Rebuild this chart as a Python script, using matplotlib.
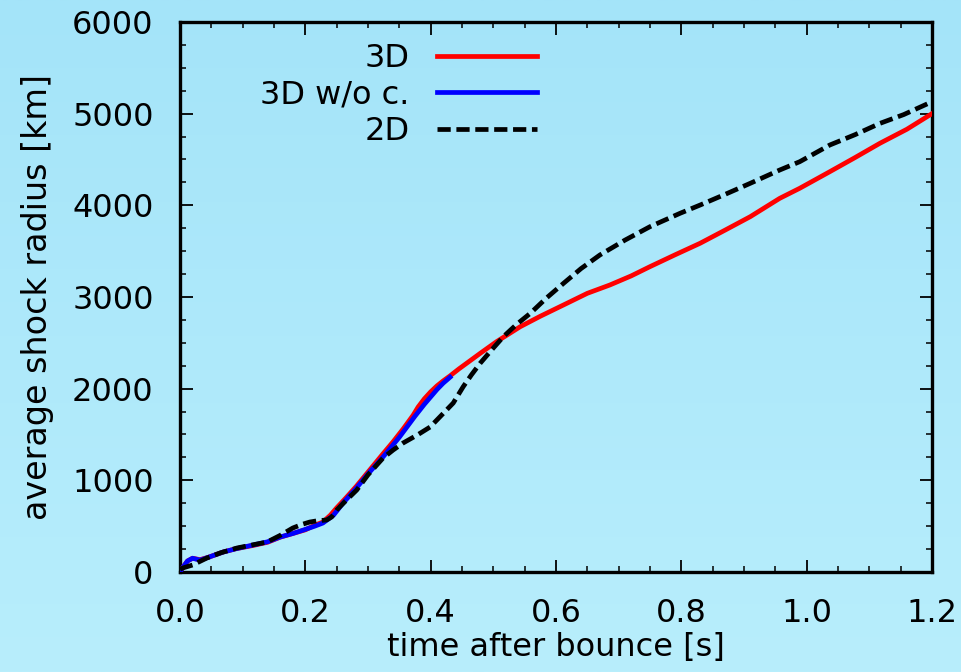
import numpy as np
import matplotlib
matplotlib.use('Agg')
import matplotlib.pyplot as plt

plt.rcParams['font.family'] = ['DejaVu Sans']

# shock radius vs time after bounce
t_3d = [0.0, 0.005, 0.012, 0.02, 0.032, 0.045, 0.069, 0.09, 0.117, 0.14, 0.16, 0.18,
        0.2, 0.215, 0.228, 0.24, 0.25, 0.265, 0.282, 0.3, 0.324, 0.34, 0.356, 0.372,
        0.38, 0.39, 0.40, 0.41, 0.42, 0.431, 0.445, 0.46, 0.48, 0.505, 0.543, 0.575,
        0.612, 0.65, 0.686, 0.72, 0.75, 0.79, 0.83, 0.87, 0.91, 0.957, 0.989, 1.037,
        1.077, 1.117, 1.16, 1.2]
r_3d = [0, 55, 120, 150, 135, 160, 218, 255, 290, 325, 380, 420,
        460, 510, 545, 620, 700, 810, 940, 1090, 1290, 1420, 1560, 1710,
        1800, 1890, 1965, 2030, 2085, 2140, 2215, 2290, 2390, 2512, 2676, 2790,
        2913, 3040, 3131, 3230, 3331, 3460, 3586, 3730, 3876, 4076, 4186, 4367,
        4520, 4677, 4830, 5000]

t_3d_noc = [0.0, 0.005, 0.012, 0.02, 0.032, 0.045, 0.069, 0.09, 0.117, 0.14, 0.16, 0.18,
            0.197, 0.215, 0.228, 0.245, 0.26, 0.282, 0.3, 0.324, 0.35, 0.375, 0.39,
            0.40, 0.41, 0.42, 0.431]
r_3d_noc = [0, 55, 120, 150, 130, 160, 218, 255, 295, 330, 382, 420,
            458, 500, 534, 620, 750, 920, 1070, 1255, 1470, 1700, 1830,
            1910, 1990, 2060, 2125]

t_2d = [0.0, 0.005, 0.02, 0.043, 0.065, 0.091, 0.115, 0.139, 0.16, 0.18, 0.195, 0.207,
        0.22, 0.234, 0.242, 0.25, 0.265, 0.282, 0.3, 0.324, 0.34, 0.356, 0.38, 0.399,
        0.415, 0.436, 0.452, 0.465, 0.479, 0.497, 0.516, 0.537, 0.559, 0.585, 0.612,
        0.64, 0.67, 0.71, 0.75, 0.798, 0.83, 0.87, 0.91, 0.957, 0.989, 1.037, 1.077,
        1.117, 1.155, 1.2]
r_2d = [30, 45, 76, 153, 210, 262, 295, 327, 400, 480, 520, 545,
        560, 567, 600, 676, 780, 894, 1060, 1243, 1330, 1407, 1500, 1581,
        1694, 1843, 2022, 2150, 2277, 2420, 2567, 2700, 2822, 2990, 3149,
        3310, 3458, 3620, 3767, 3913, 4003, 4120, 4240, 4385, 4476, 4658, 4770,
        4894, 4990, 5130]

xtick_labels = ['0.0', '0.2', '0.4', '0.6', '0.8', '1.0', '1.2']

fig = plt.figure(figsize=(9.62, 6.72), dpi=100)

# light blue gradient backdrop
bg = fig.add_axes([0, 0, 1, 1], zorder=-10)
grad = np.linspace(0, 1, 256)[:, None]
top = np.array([164, 228, 249]) / 255.
bot = np.array([184, 238, 252]) / 255.
img = top[None, None, :] * (1 - grad[:, :, None]) + bot[None, None, :] * grad[:, :, None]
bg.imshow(img, aspect='auto', extent=[0, 1, 0, 1])
bg.axis('off')

ax = fig.add_axes([0.1871, 0.1488, 0.7817, 0.8185])
ax.patch.set_alpha(0)

lw = 3.4
ax.plot(t_3d, r_3d, color='#ff0000', lw=lw, label='3D', zorder=3)
ax.plot(t_3d_noc, r_3d_noc, color='#0000ff', lw=lw, label='3D w/o c.', zorder=4)
ax.plot(t_2d, r_2d, color='black', lw=lw, dashes=(2.8, 1.2), dash_capstyle='butt',
        label='2D', zorder=5)

ax.set_xlim(0, 1.2)
ax.set_ylim(0, 6000)
ax.set_xticks(np.arange(0, 1.21, 0.2))
ax.set_xticklabels(xtick_labels)
ax.set_xticks(np.arange(0, 1.21, 0.05), minor=True)
ax.set_yticks(np.arange(0, 6001, 1000))
ax.set_yticks(np.arange(0, 6001, 250), minor=True)

ax.tick_params(which='both', direction='in', top=True, right=True, color='black',
               labelsize=23)
ax.tick_params(axis='y', pad=19)
ax.tick_params(axis='x', pad=19)
ax.tick_params(which='major', length=9, width=1.3)
ax.tick_params(which='minor', length=4.5, width=1.1)
for s in ax.spines.values():
    s.set_linewidth(2.4)

ax.set_xlabel('time after bounce [s]', fontsize=23, labelpad=2)
ax.set_ylabel('average shock radius [km]', fontsize=24, labelpad=13)

ax.legend(loc='upper right', bbox_to_anchor=(0.503, 1.0), frameon=False,
          markerfirst=False, fontsize=23, handlelength=3.15, handletextpad=0.85,
          labelspacing=0.18, borderaxespad=0.25)

fig.savefig('out.png', dpi=100)
